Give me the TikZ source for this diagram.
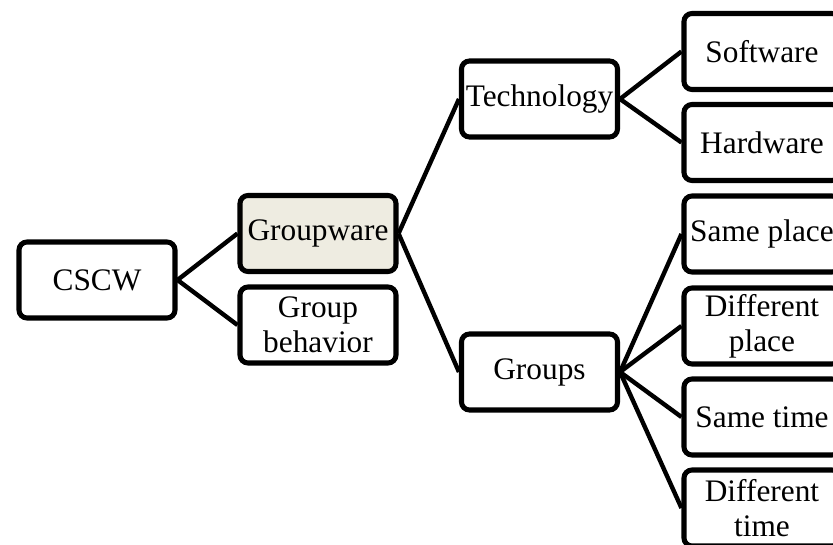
\documentclass[tikz,border=0pt]{standalone}
\usepackage{fontspec}
\setmainfont{Liberation Serif}
\definecolor{gwfill}{RGB}{238,236,225}
\tikzset{
  box/.style={draw, line width=3.8pt, rounded corners=6pt, fill=white,
    minimum width=117pt, minimum height=57pt, inner sep=0pt, align=center,
    font=\fontsize{23.5}{26.5}\selectfont},
  link/.style={line width=3.3pt}
}
\begin{document}
\begin{tikzpicture}[x=0.75pt,y=0.75pt,yscale=-1,xscale=1]
    \useasboundingbox (0,0) rectangle (833,545);
    \clip (0,0) rectangle (833,545);
    % Level 0
    \node [box] (cscw) at (97,280) {CSCW};
    % Level 1
    \node [box, fill=gwfill] (gware) at (318,233.5) {Groupware};
    \node [box] (gbeh) at (318,325) {Group\\behavior};
    % Level 2
    \node [box] (tech) at (539.5,99) {Technology};
    \node [box] (groups) at (539.5,372) {Groups};
    % Level 3
    \node [box] (soft) at (762,51.5) {Software};
    \node [box] (hard) at (762,142.5) {Hardware};
    \node [box] (splace) at (762,234) {Same place};
    \node [box] (dplace) at (762,326) {Different\\place};
    \node [box] (stime) at (762,417) {Same time};
    \node [box] (dtime) at (762,508) {Different\\time};
    % Links
    \draw [link] (cscw.east) -- (gware.west);
    \draw [link] (cscw.east) -- (gbeh.west);
    \draw [link] (gware.east) -- (tech.west);
    \draw [link] (gware.east) -- (groups.west);
    \draw [link] (tech.east) -- (soft.west);
    \draw [link] (tech.east) -- (hard.west);
    \foreach \n in {splace,dplace,stime,dtime}
        \draw [link] (groups.east) -- (\n.west);
\end{tikzpicture}
\end{document}
